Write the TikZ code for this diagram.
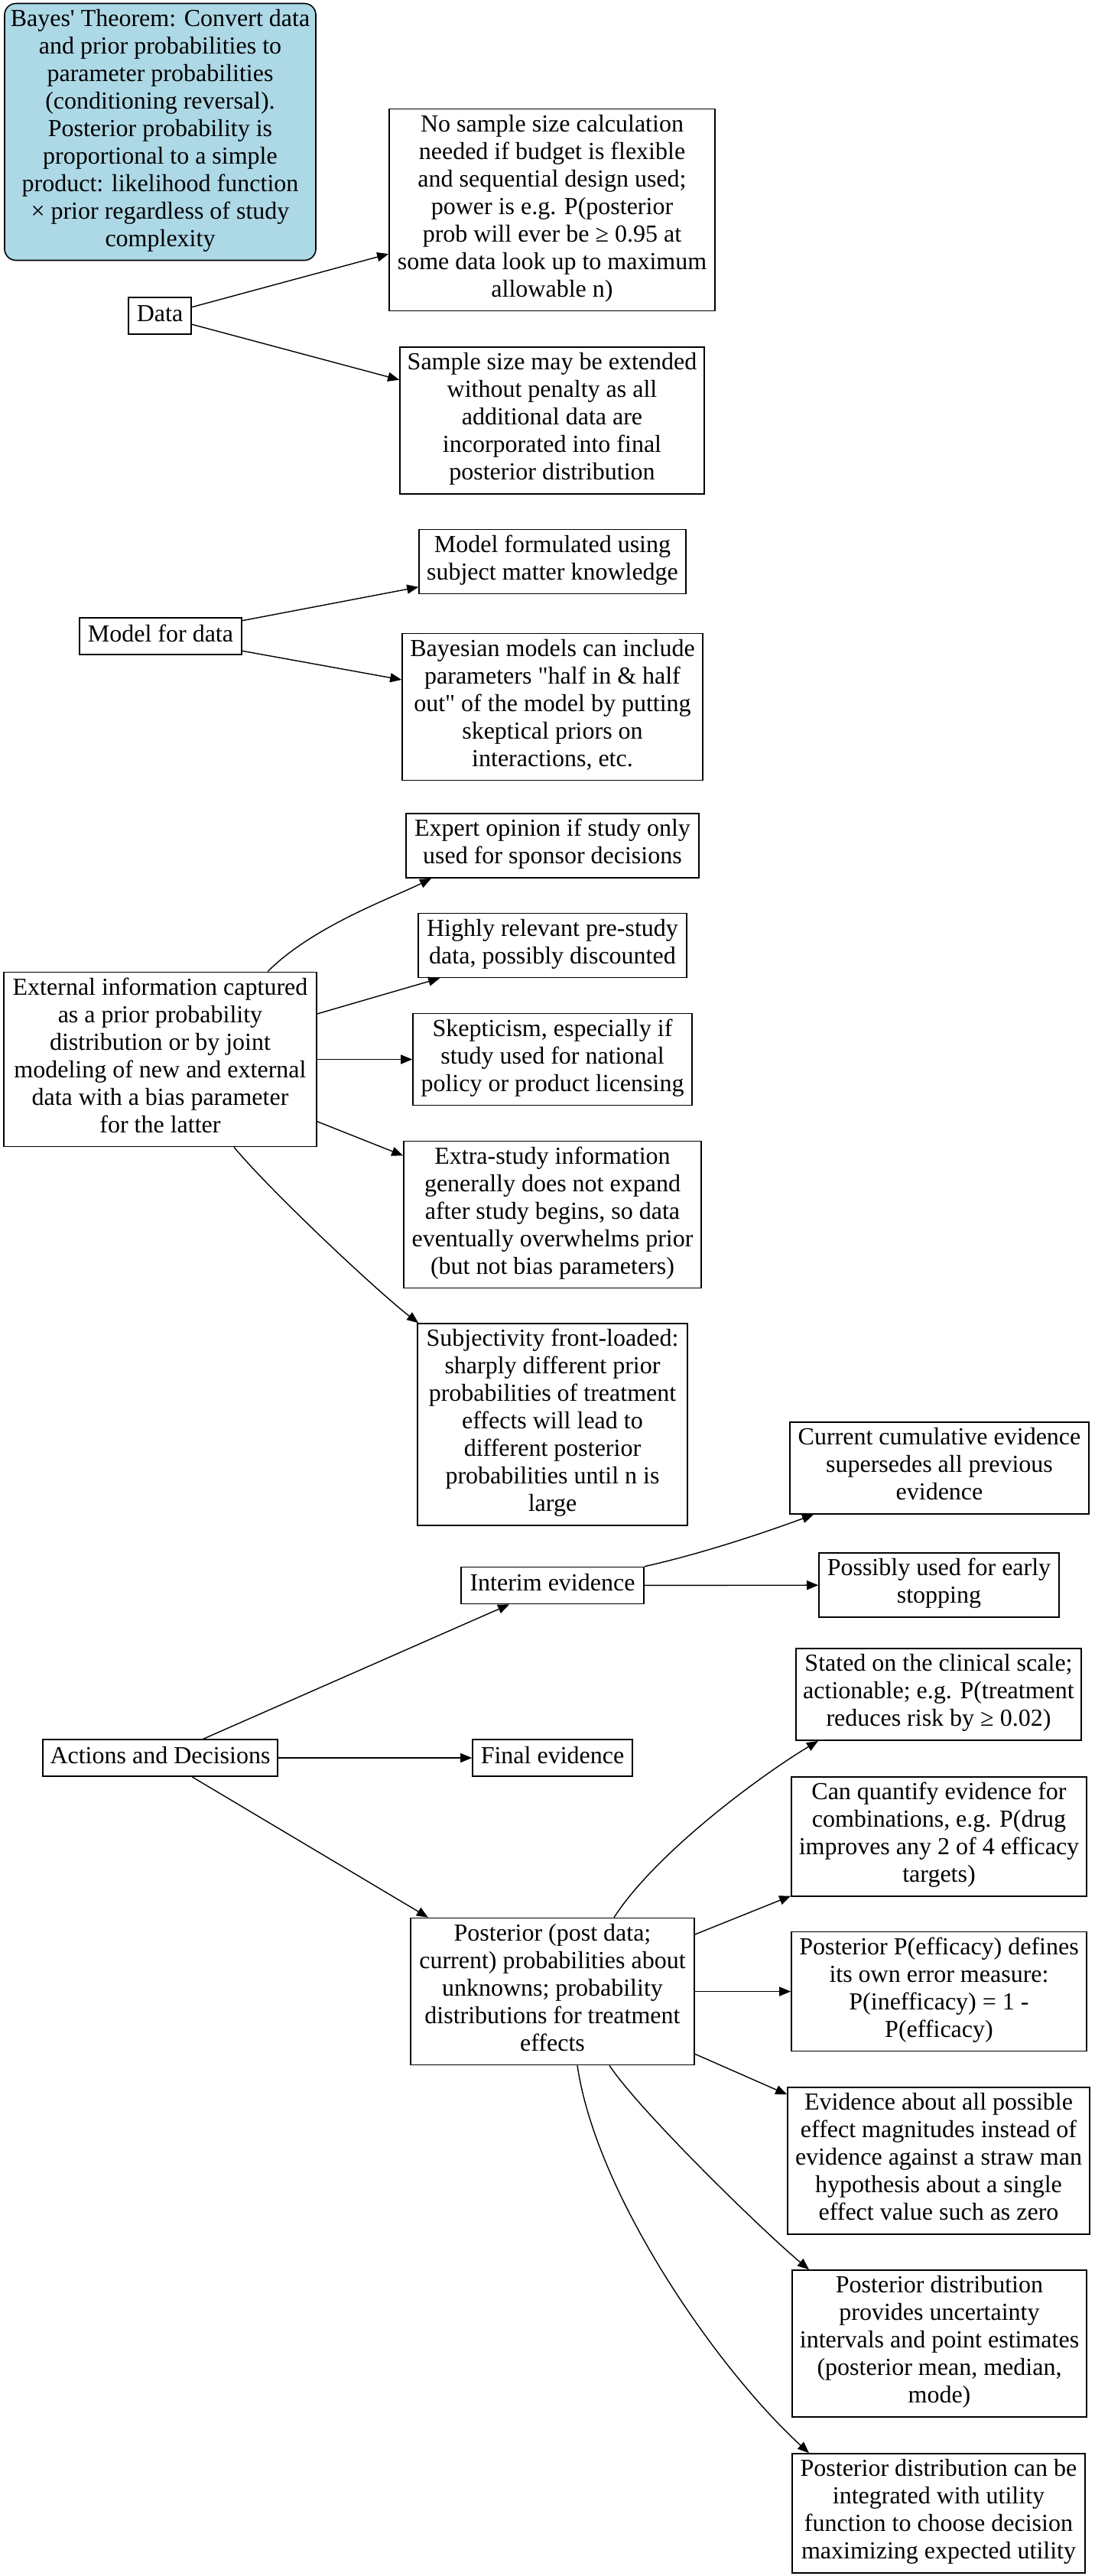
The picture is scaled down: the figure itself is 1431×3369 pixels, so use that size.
\documentclass[tikz,border=0pt]{standalone}
\usepackage{fontspec}
\setmainfont{Liberation Serif}[Ligatures=TeXOff]
\usetikzlibrary{arrows.meta,calc}
\definecolor{lb}{HTML}{ADD8E6}
\begin{document}
\begin{tikzpicture}[x=0.5pt,y=-0.5pt,
  gbox/.style={draw=black, line width=0.8pt, rectangle, align=center, inner xsep=2pt, inner ysep=0pt,
    font=\fontsize{16}{18}\selectfont, execute at begin node=\strut, execute at end node=\strut},
  conn/.style={line width=0.7pt, -{Triangle[length=7.5pt,width=6pt]}}]
\useasboundingbox (0,0) rectangle (1431,3369);

\node[gbox, fill=lb, rounded corners=7.5pt, minimum width=203.5pt, minimum height=168pt] (bayes) at (209.5,172.5)
 {Bayes' Theorem: Convert data\\and prior probabilities to\\parameter probabilities\\(conditioning reversal).\\Posterior probability is\\proportional to a simple\\product: likelihood function\\× prior regardless of study\\complexity};

\node[gbox, minimum width=41pt, minimum height=24pt] (data) at (209,413) {Data};
\node[gbox, minimum width=213pt, minimum height=132pt] (nosample) at (722,274.5)
 {No sample size calculation\\needed if budget is flexible\\and sequential design used;\\power is e.g. P(posterior\\prob will ever be ≥ 0.95 at\\some data look up to maximum\\allowable n)};
\node[gbox, minimum width=199pt, minimum height=96pt] (samplesize) at (722,550)
 {Sample size may be extended\\without penalty as all\\additional data are\\incorporated into final\\posterior distribution};

\node[gbox, minimum width=106pt, minimum height=24pt] (modeldata) at (210,832) {Model for data};
\node[gbox, minimum width=174.5pt, minimum height=42pt] (modelform) at (722.5,734.5)
 {Model formulated using\\subject matter knowledge};
\node[gbox, minimum width=196.5pt, minimum height=96pt] (bayesian) at (722.5,924.5)
 {Bayesian models can include\\parameters "half in \& half\\out" of the model by putting\\skeptical priors on\\interactions, etc.};

\node[gbox, minimum width=204.5pt, minimum height=114pt] (external) at (209.5,1385.5)
 {External information captured\\as a prior probability\\distribution or by joint\\modeling of new and external\\data with a bias parameter\\for the latter};
\node[gbox, minimum width=191.5pt, minimum height=42pt] (expert) at (722.5,1106)
 {Expert opinion if study only\\used for sponsor decisions};
\node[gbox, minimum width=175.5pt, minimum height=42pt] (highly) at (722.5,1236.5)
 {Highly relevant pre-study\\data, possibly discounted};
\node[gbox, minimum width=182.5pt, minimum height=60pt] (skept) at (722.5,1385.5)
 {Skepticism, especially if\\study used for national\\policy or product licensing};
\node[gbox, minimum width=194.5pt, minimum height=96pt] (extra) at (722.5,1588.5)
 {Extra-study information\\generally does not expand\\after study begins, so data\\eventually overwhelms prior\\(but not bias parameters)};
\node[gbox, minimum width=176.5pt, minimum height=132pt] (subj) at (722.5,1863)
 {Subjectivity front-loaded:\\sharply different prior\\probabilities of treatment\\effects will lead to\\different posterior\\probabilities until n is\\large};

\node[gbox, minimum width=195.5pt, minimum height=60pt] (current) at (1228.5,1920)
 {Current cumulative evidence\\supersedes all previous\\evidence};
\node[gbox, minimum width=119.5pt, minimum height=24pt] (interim) at (722.5,2073.5) {Interim evidence};
\node[gbox, minimum width=157pt, minimum height=42pt] (possibly) at (1228,2073)
 {Possibly used for early\\stopping};

\node[gbox, minimum width=153.5pt, minimum height=24pt] (actions) at (209.5,2299) {Actions and Decisions};
\node[gbox, minimum width=104.5pt, minimum height=24pt] (final) at (722.5,2299) {Final evidence};
\node[gbox, minimum width=186.5pt, minimum height=60pt] (stated) at (1227.5,2216)
 {Stated on the clinical scale;\\actionable; e.g. P(treatment\\reduces risk by ≥ 0.02)};
\node[gbox, minimum width=193pt, minimum height=78pt] (canq) at (1228,2402)
 {Can quantify evidence for\\combinations, e.g. P(drug\\improves any 2 of 4 efficacy\\targets)};
\node[gbox, minimum width=185.5pt, minimum height=96pt] (postpost) at (722.5,2604.5)
 {Posterior (post data;\\current) probabilities about\\unknowns; probability\\distributions for treatment\\effects};
\node[gbox, minimum width=193pt, minimum height=78pt] (postpeff) at (1228,2604.5)
 {Posterior P(efficacy) defines\\its own error measure:\\P(inefficacy) = 1 -\\P(efficacy)};
\node[gbox, minimum width=197.5pt, minimum height=96pt] (evidence) at (1227.5,2826)
 {Evidence about all possible\\effect magnitudes instead of\\evidence against a straw man\\hypothesis about a single\\effect value such as zero};
\node[gbox, minimum width=192.5pt, minimum height=96pt] (provides) at (1228.5,3065)
 {Posterior distribution\\provides uncertainty\\intervals and point estimates\\(posterior mean, median,\\mode)};
\node[gbox, minimum width=191.5pt, minimum height=78pt] (canbe) at (1227.5,3287)
 {Posterior distribution can be\\integrated with utility\\function to choose decision\\maximizing expected utility};

% connectors
\draw[conn] (data) -- (nosample);
\draw[conn] (data) -- (samplesize);
\draw[conn] (modeldata) -- (modelform);
\draw[conn] (modeldata) -- (bayesian);

\draw[conn] ([xshift=70.25pt]external.north) .. controls +(60,-60) and +(-50,25) .. ([xshift=-79.25pt]expert.south);
\draw[conn] (external) -- (highly);
\draw[conn] (external) -- (skept);
\draw[conn] (external) -- (extra);
\draw[conn] ([xshift=48.25pt]external.south) .. controls +(50,60) and +(-50,-38) .. ([xshift=1pt]subj.north west);

\draw[conn] (interim.north east) .. controls +(80,-18) and +(-60,22) .. ([xshift=-82.25pt]current.south);
\draw[conn] (interim) -- (possibly);

\draw[conn] (actions) -- (interim);
\draw[conn] (actions) -- (final);
\draw[conn] (actions) -- (postpost);

\draw[conn] ([xshift=40.25pt]postpost.north) .. controls +(55,-85) and +(-75,45) .. ([xshift=-78.75pt]stated.south);
\draw[conn] (postpost) -- (canq);
\draw[conn] (postpost) -- (postpeff);
\draw[conn] (postpost) -- (evidence);
\draw[conn] ([xshift=37.25pt]postpost.south) .. controls +(40,60) and +(-60,-50) .. ([xshift=-85.25pt]provides.north);
\draw[conn] ([xshift=16.25pt]postpost.south) .. controls +(25,170) and +(-120,-110) .. ([xshift=-84.75pt]canbe.north);
\end{tikzpicture}
\end{document}
